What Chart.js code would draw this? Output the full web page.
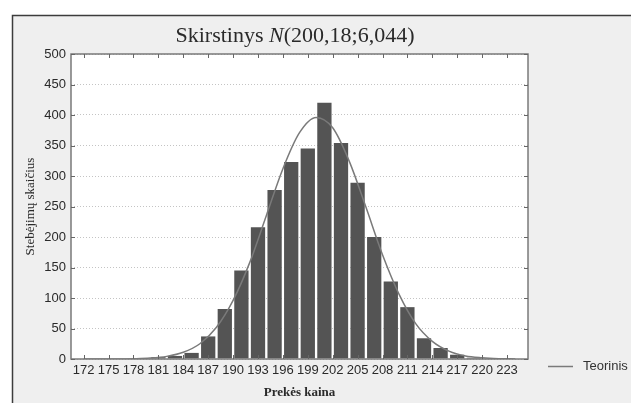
<!DOCTYPE html>
<html>
<head>
<meta charset="utf-8">
<script src="https://cdn.jsdelivr.net/npm/chart.js@4/dist/chart.umd.min.js"></script>
<style>
    body { margin: 0; background: #fff; }
    #wrap { width: 631px; height: 403px; }
</style>
</head>
<body>
<div id="wrap"><canvas id="histChart" width="631" height="403"></canvas></div>
<script>
// histogram bins (bin width 2)
var binCenters = [181, 183, 185, 187, 189, 191, 193, 195, 197, 199, 201, 203, 205, 207, 209, 211, 213, 215, 217, 219];
var binCounts = [3, 5, 10, 37, 82, 145, 216, 277, 323, 345, 420, 354, 289, 200, 127, 85, 34, 18, 7, 2];

// theoretical curve
var curveX = [172, 174, 176, 178, 180, 182, 184, 186, 188, 190, 192, 194, 196, 198, 200, 202, 204, 206, 208, 210, 212, 214, 216, 218, 220, 222, 224];
var curveY = [0, 0, 0.1, 0.5, 1.5, 4.3, 11, 25, 52, 96, 158, 235, 312, 371, 396, 379, 324, 249, 171, 106, 58, 29, 13, 5, 2, 0.6, 0.2];

var xTickLabels = [172, 175, 178, 181, 184, 187, 190, 193, 196, 199, 202, 205, 208, 211, 214, 217, 220, 223];
var yTickLabels = [0, 50, 100, 150, 200, 250, 300, 350, 400, 450, 500];

var titleParts = ["Skirstinys ", "N", "(200,18;6,044)"];
var legendLabel = "Teorinis";

function toPoints(xs, ys) {
    var pts = [];
    for (var i = 0; i < xs.length; i++) {
        pts.push({ x: xs[i], y: ys[i] });
    }
    return pts;
}

// frame, plot box, inner ticks, title and legend
var decorPlugin = {
    id: 'decor',
    beforeDraw: function(chart) {
        var ctx = chart.ctx;
        var a = chart.chartArea;
        ctx.save();
        ctx.fillStyle = '#ffffff';
        ctx.fillRect(0, 0, chart.width, chart.height);
        ctx.fillStyle = '#efefef';
        ctx.fillRect(12, 15, chart.width - 12, chart.height - 15);
        ctx.strokeStyle = '#3c3c3c';
        ctx.lineWidth = 1.5;
        ctx.beginPath();
        ctx.moveTo(12.5, chart.height);
        ctx.lineTo(12.5, 15.5);
        ctx.lineTo(chart.width, 15.5);
        ctx.stroke();
        ctx.fillStyle = '#ffffff';
        ctx.fillRect(a.left, a.top, a.right - a.left, a.bottom - a.top);
        ctx.restore();
    },
    afterDraw: function(chart) {
        var ctx = chart.ctx;
        var a = chart.chartArea;
        var xs = chart.scales.x;
        var ys = chart.scales.y;
        ctx.save();
        ctx.strokeStyle = '#7a7a7a';
        ctx.lineWidth = 1.5;
        ctx.strokeRect(a.left, a.top, a.right - a.left, a.bottom - a.top);

        ctx.lineWidth = 1;
        ctx.strokeStyle = '#666';
        ctx.beginPath();
        xTickLabels.forEach(function(v) {
            var px = Math.round(xs.getPixelForValue(v)) + 0.5;
            ctx.moveTo(px, a.top);
            ctx.lineTo(px, a.top + 4);
            ctx.moveTo(px, a.bottom);
            ctx.lineTo(px, a.bottom - 4);
        });
        yTickLabels.forEach(function(v) {
            var py = Math.round(ys.getPixelForValue(v)) + 0.5;
            ctx.moveTo(a.left, py);
            ctx.lineTo(a.left + 4, py);
            ctx.moveTo(a.right, py);
            ctx.lineTo(a.right - 4, py);
        });
        ctx.stroke();

        // title with italic N
        var fontNormal = '22px "Liberation Serif", "Times New Roman", serif';
        var fontItalic = 'italic 22px "Liberation Serif", "Times New Roman", serif';
        ctx.font = fontNormal;
        var w0 = ctx.measureText(titleParts[0]).width;
        var w2 = ctx.measureText(titleParts[2]).width;
        ctx.font = fontItalic;
        var w1 = ctx.measureText(titleParts[1]).width;
        var tx = 295 - (w0 + w1 + w2) / 2;
        var ty = 42;
        ctx.fillStyle = '#2a2a2a';
        ctx.textBaseline = 'alphabetic';
        ctx.textAlign = 'left';
        ctx.font = fontNormal;
        ctx.fillText(titleParts[0], tx, ty);
        ctx.font = fontItalic;
        ctx.fillText(titleParts[1], tx + w0, ty);
        ctx.font = fontNormal;
        ctx.fillText(titleParts[2], tx + w0 + w1, ty);

        // legend
        ctx.strokeStyle = '#7a7a7a';
        ctx.lineWidth = 1.5;
        ctx.beginPath();
        ctx.moveTo(548, 366.5);
        ctx.lineTo(573, 366.5);
        ctx.stroke();
        ctx.fillStyle = '#333';
        ctx.font = '13px "Liberation Sans", Arial, sans-serif';
        ctx.textBaseline = 'middle';
        ctx.fillText(legendLabel, 583, 366);
        ctx.restore();
    }
};

var ctx = document.getElementById('histChart');
var histChart = new Chart(ctx, {
    type: 'bar',
    data: {
        datasets: [{
            type: 'line',
            label: legendLabel,
            data: toPoints(curveX, curveY),
            borderColor: '#7a7a7a',
            borderWidth: 1.5,
            pointRadius: 0,
            cubicInterpolationMode: 'monotone',
            fill: false,
            order: 0
        }, {
            type: 'bar',
            label: 'Stebėjimai',
            data: toPoints(binCenters, binCounts),
            backgroundColor: '#545454',
            borderWidth: 0,
            barPercentage: 0.86,
            categoryPercentage: 1,
            order: 1
        }]
    },
    options: {
        responsive: false,
        animation: false,
        layout: { padding: { left: 0, top: 54, right: 103, bottom: 0 } },
        plugins: {
            legend: { display: false },
            tooltip: { enabled: false }
        },
        scales: {
            x: {
                type: 'linear',
                min: 172,
                max: 224,
                afterBuildTicks: function(scale) {
                    scale.ticks = xTickLabels.map(function(v) { return { value: v }; });
                },
                afterFit: function(scale) { scale.height = 44; },
                grid: { display: false, drawTicks: false },
                border: { display: false },
                ticks: {
                    autoSkip: false,
                    maxRotation: 0,
                    padding: 4,
                    color: '#2a2a2a',
                    font: { family: '"Liberation Sans", Arial, sans-serif', size: 13 }
                },
                title: {
                    display: true,
                    text: 'Prekės kaina',
                    color: '#2a2a2a',
                    padding: { top: 0, bottom: 3 },
                    font: { family: '"Liberation Serif", "Times New Roman", serif', size: 13, weight: 'bold' }
                }
            },
            y: {
                min: 0,
                max: 500,
                afterBuildTicks: function(scale) {
                    scale.ticks = yTickLabels.map(function(v) { return { value: v }; });
                },
                afterFit: function(scale) { scale.width = 71; },
                grid: {
                    color: '#c4c4c4',
                    lineWidth: 1,
                    drawTicks: false
                },
                border: { display: false, dash: [1, 2] },
                ticks: {
                    padding: 5,
                    color: '#2a2a2a',
                    font: { family: '"Liberation Sans", Arial, sans-serif', size: 13 }
                },
                title: {
                    display: true,
                    text: 'Stebėjimų skaičius',
                    color: '#2a2a2a',
                    padding: { top: 23, bottom: 0 },
                    font: { family: '"Liberation Serif", "Times New Roman", serif', size: 13 }
                }
            }
        }
    },
    plugins: [decorPlugin]
});
</script>
</body>
</html>
